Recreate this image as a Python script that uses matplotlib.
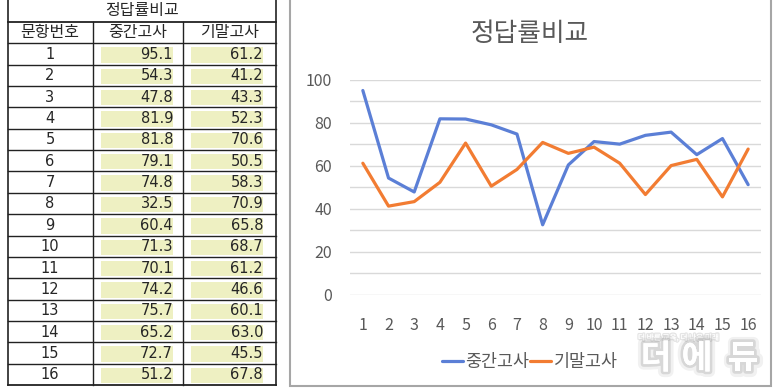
import matplotlib
matplotlib.use("Agg")
import matplotlib.pyplot as plt
from matplotlib.lines import Line2D
from matplotlib.patches import Rectangle
import matplotlib.patheffects as pe

plt.rcParams['font.family'] = ['Noto Sans CJK KR', 'DejaVu Sans']

title = "정답률비교"
headers = ["문항번호", "중간고사", "기말고사"]
items = list(range(1, 17))
midterm = [95.1, 54.3, 47.8, 81.9, 81.8, 79.1, 74.8, 32.5, 60.4, 71.3, 70.1, 74.2, 75.7, 65.2, 72.7, 51.2]
final = [61.2, 41.2, 43.3, 52.3, 70.6, 50.5, 58.3, 70.9, 65.8, 68.7, 61.2, 46.6, 60.1, 63.0, 45.5, 67.8]
series_names = ["중간고사", "기말고사"]
colors = ["#5B7FD6", "#F27C32"]

W, H = 780, 390
fig = plt.figure(figsize=(W / 100, H / 100), dpi=100)
fig.patch.set_facecolor("white")


def fx(x):
    return x / W


def fy(y):
    return 1 - y / H


def hline(x0, x1, y, lw=1.0, color="#222222"):
    fig.add_artist(Line2D([fx(x0), fx(x1)], [fy(y), fy(y)], lw=lw, color=color,
                          transform=fig.transFigure))


def vline(x, y0, y1, lw=1.0, color="#222222"):
    fig.add_artist(Line2D([fx(x), fx(x)], [fy(y0), fy(y1)], lw=lw, color=color,
                          transform=fig.transFigure))


# ---------------- table ----------------
tl, tr = 7.5, 276
c1, c2 = 92.5, 183
rh = 21.35
top_line = 22
tfs = 11.5
tcolor = "#262626"
numfont = ["DejaVu Sans"]

fig.text(fx((tl + tr) / 2), fy(11), title, ha="center", va="center", fontsize=tfs, color=tcolor)
hdr_y = top_line + rh / 2
for txt, cx in zip(headers, [(tl + c1) / 2, (c1 + c2) / 2, (c2 + tr) / 2]):
    fig.text(fx(cx), fy(hdr_y), txt, ha="center", va="center", fontsize=tfs, color=tcolor)

for i, (n, a, b) in enumerate(zip(items, midterm, final)):
    rt = top_line + rh * (i + 1)
    rb = rt + rh
    for x0, x1 in [(101, 173), (191, 263)]:
        fig.add_artist(Rectangle((fx(x0), fy(rb - 2)), fx(x1 - x0), (rb - 2 - (rt + 4)) / H,
                                 transform=fig.transFigure, facecolor="#EEF0C2", edgecolor="none"))
    cy = (rt + rb) / 2 + 0.5
    fig.text(fx((tl + c1) / 2), fy(cy), str(n), ha="center", va="center", fontsize=10.5,
             color=tcolor, family=numfont)
    fig.text(fx(173), fy(cy), f"{a:.1f}", ha="right", va="center", fontsize=10.5, color=tcolor,
             family=numfont)
    fig.text(fx(263), fy(cy), f"{b:.1f}", ha="right", va="center", fontsize=10.5, color=tcolor,
             family=numfont)

for k in range(18):
    y = top_line + rh * k
    hline(tl, tr, y, lw=1.3 if k in (0, 17) else 1.0)
vline(tl, 0, top_line + rh * 17, lw=1.2)
vline(tr, 0, top_line + rh * 17, lw=1.2)
vline(c1, top_line, top_line + rh * 17)
vline(c2, top_line, top_line + rh * 17)

# ---------------- chart ----------------
frame = Rectangle((fx(290), fy(386)), fx(770.5 - 290), (386 + 2) / H,
                  transform=fig.transFigure, facecolor="white", edgecolor="#A6A6A6", lw=1.5,
                  zorder=-5)
fig.patches.append(frame)

ax = fig.add_axes([fx(350), fy(294.5), fx(761 - 350), (294.5 - 80) / H])
ax.set_facecolor("none")
for s in ax.spines.values():
    s.set_visible(False)
ax.set_xlim(0.5, 16.5)
ax.set_ylim(0, 100)
ax.set_yticks(range(0, 101, 20))
ax.set_yticks(range(0, 101, 10), minor=True)
ax.grid(True, axis="y", which="both", color="#D9D9D9", lw=1.0)
ax.set_axisbelow(True)
ax.set_xticks(items)
ax.set_xticklabels([str(i) for i in items])
ax.tick_params(axis="both", which="both", length=0, labelsize=11.5, colors="#595959")
ax.tick_params(axis="y", pad=13)
ax.tick_params(axis="x", pad=16)

for vals, name, col in zip([midterm, final], series_names, colors):
    ax.plot(items, vals, color=col, lw=2.3, label=name, solid_capstyle="round",
            solid_joinstyle="round")

fig.text(fx(530), fy(34), title, ha="center", va="center", fontsize=18.5, color="#595959")

leg = ax.legend(loc="center", bbox_to_anchor=(fx(530), fy(362)), bbox_transform=fig.transFigure,
                ncol=2, frameon=False, fontsize=12.5, handlelength=1.2, handletextpad=0.15,
                columnspacing=0.05, borderpad=0)
for t in leg.get_texts():
    t.set_color("#595959")

# ---------------- watermark ----------------
shadow = [pe.withStroke(linewidth=8, foreground=(0.55, 0.55, 0.55, 0.12)),
          pe.withStroke(linewidth=4, foreground=(0.55, 0.55, 0.55, 0.25)),
          pe.Normal()]
fig.text(fx(638), fy(338), "더 바른 교육, 더 나은 미래", ha="left", va="center", fontsize=5.5,
         color="white",
         path_effects=[pe.withStroke(linewidth=2, foreground=(0.6, 0.6, 0.6, 0.25)), pe.Normal()])
for ch, cx in zip("더에듀", [656, 697, 743]):
    fig.text(fx(cx), fy(359), ch, ha="center", va="center", fontsize=24, fontweight="bold",
             color="white", path_effects=shadow, zorder=10)

fig.savefig("out.png", dpi=100)
